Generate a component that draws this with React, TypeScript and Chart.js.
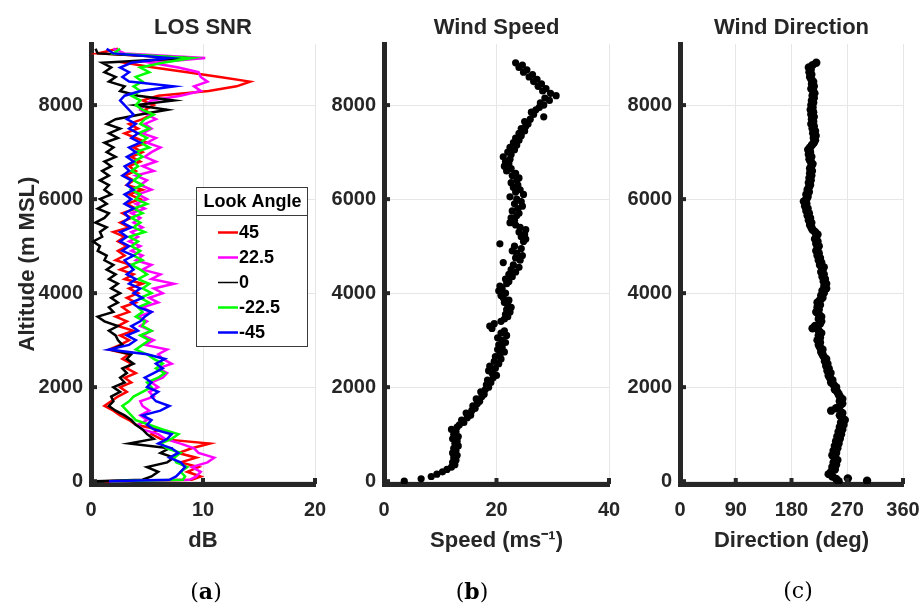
import React, { useEffect, useRef } from "react";
import { Chart, registerables } from "chart.js";
Chart.register(...registerables);

// ---------- DATA ----------
const snrAlt = [0, 30, 100, 200, 300, 400, 500, 600, 700, 800, 900, 1000, 1100, 1200, 1300, 1400, 1500, 1600, 1700, 1800, 1900, 2000, 2100, 2200, 2300, 2400, 2500, 2600, 2700, 2800, 2900, 3000, 3100, 3200, 3300, 3400, 3500, 3600, 3700, 3800, 3900, 4000, 4100, 4200, 4300, 4400, 4500, 4600, 4700, 4800, 4900, 5000, 5100, 5200, 5300, 5400, 5500, 5600, 5700, 5800, 5900, 6000, 6100, 6200, 6300, 6400, 6500, 6600, 6700, 6800, 6900, 7000, 7100, 7200, 7300, 7400, 7500, 7600, 7700, 7800, 7900, 8000, 8100, 8200, 8300, 8400, 8500, 8600, 8700, 8800, 8900, 9000, 9100, 9200];

const snr45 = [1.2, 9.0, 9.8, 8.6, 9.6, 8.0, 9.4, 7.8, 9.0, 10.6, 6.2,
  5.4, 6.0, 4.0, 3.4, 2.6, 2.0, 1.2, 1.8, 2.4, 3.2,
  2.6, 3.6, 3.0, 4.0, 3.2, 3.6, 2.8, 3.4, 1.6, 2.6,
  3.4, 2.6, 3.8, 2.4, 3.2, 2.2, 3.4, 2.8, 4.0, 3.2,
  4.2, 3.4, 4.6, 3.0, 3.8, 2.6, 3.6, 2.2, 3.0, 2.4,
  3.2, 2.4, 3.0, 2.0, 3.4, 2.6, 3.6, 2.8, 4.0, 3.2,
  4.4, 3.4, 4.6, 3.2, 3.8, 3.0, 4.0, 3.4, 4.4, 3.6,
  4.6, 3.8, 5.0, 4.0, 3.0, 4.2, 3.4, 4.6, 5.4, 4.8,
  5.6, 4.6, 6.0, 10.5, 13.0, 14.2, 11.5, 8.6, 5.6, 3.0,
  8.4, 0.6, 2.4];

const snr22 = [1.6, 8.8, 9.4, 9.8, 9.0, 10.4, 11.0, 9.6, 9.2, 8.0, 6.6,
  6.0, 4.6, 4.2, 5.0, 4.4, 5.2, 4.6, 4.4, 5.6, 5.2,
  6.0, 5.4, 6.4, 6.8, 6.0, 7.2, 6.4, 6.0, 6.8, 4.8,
  5.6, 4.6, 5.4, 4.4, 5.0, 4.2, 5.4, 4.6, 6.0, 5.2,
  6.4, 5.6, 7.4, 5.4, 6.2, 4.6, 5.4, 4.0, 4.6, 3.6,
  4.4, 3.4, 4.2, 3.6, 4.6, 3.8, 4.4, 3.6, 4.8, 4.0,
  5.0, 4.2, 5.4, 4.4, 5.0, 4.0, 5.6, 4.6, 5.8, 4.8,
  5.4, 6.2, 5.0, 5.8, 4.6, 5.4, 4.8, 5.8, 5.0, 4.4,
  4.8, 5.4, 8.0, 9.8, 9.2, 10.4, 9.8, 9.6, 7.8, 5.4,
  10.2, 3.0, 2.0];

const snr0 = [0.4, 4.6, 5.4, 6.0, 5.0, 6.8, 7.4, 6.2, 7.0, 3.4, 5.6,
  5.0, 4.6, 4.0, 3.6, 3.0, 2.2, 1.6, 2.0, 1.8, 2.6,
  2.0, 3.0, 2.6, 3.2, 2.8, 3.8, 3.2, 3.6, 1.8, 2.8,
  2.4, 2.2, 1.6, 2.4, 1.2, 0.6, 2.0, 1.6, 2.4, 1.8,
  2.6, 1.8, 2.4, 1.6, 2.2, 1.4, 2.0, 1.2, 1.4, 0.6,
  0.8, 0.2, 1.0, 0.8, 1.4, 0.4, 1.2, 1.6, 0.6, 1.4,
  0.8, 1.8, 1.2, 1.6, 0.8, 1.6, 1.0, 1.8, 1.2, 2.2,
  1.4, 2.0, 1.2, 2.4, 1.6, 2.6, 1.4, 2.2, 4.4, 6.8,
  4.0, 7.4, 4.2, 2.6, 3.0, 1.6, 2.2, 1.2, 1.8, 1.0,
  8.6, 0.6, 0.4];

const snrM22 = [1.8, 8.2, 8.4, 8.0, 8.6, 7.6, 7.4, 8.0, 6.8, 6.2, 7.2,
  7.8, 6.4, 5.2, 4.0, 3.6, 3.2, 2.8, 3.4, 3.8, 4.6,
  5.4, 5.0, 6.0, 6.6, 5.8, 6.4, 5.6, 5.0, 4.0, 4.6,
  5.2, 4.4, 5.4, 4.6, 4.8, 4.0, 4.6, 4.2, 5.2, 4.4,
  5.4, 4.6, 5.2, 4.2, 5.0, 4.4, 3.6, 4.6, 3.8, 4.4,
  3.6, 4.2, 3.4, 4.8, 3.8, 4.4, 3.6, 4.6, 3.8, 5.0,
  4.0, 4.4, 3.6, 4.6, 3.8, 4.4, 3.6, 4.2, 3.8, 4.6,
  4.0, 5.2, 4.4, 5.0, 4.2, 5.2, 4.4, 4.8, 5.6, 4.6,
  4.0, 4.4, 3.6, 4.4, 3.8, 4.6, 4.0, 5.2, 4.4, 6.4,
  9.0, 2.0, 2.6];

const snrM45 = [1.6, 7.0, 7.6, 8.0, 8.4, 8.0, 7.0, 7.8, 7.2, 6.0, 6.8,
  7.2, 5.6, 5.0, 5.4, 4.6, 6.2, 7.0, 5.8, 5.4, 6.0,
  5.0, 5.4, 4.8, 5.6, 6.4, 5.8, 6.6, 5.0, 1.6, 3.4,
  4.0, 3.2, 4.2, 3.6, 4.4, 4.8, 5.4, 4.2, 3.6, 4.6,
  3.8, 4.4, 3.4, 4.0, 3.2, 3.8, 3.4, 3.0, 3.8, 2.8,
  3.4, 2.6, 3.2, 2.6, 3.6, 2.8, 3.4, 3.0, 3.8, 3.0,
  3.6, 3.0, 3.8, 3.2, 3.6, 2.8, 3.4, 3.0, 3.8, 3.2,
  4.0, 3.4, 4.4, 3.6, 4.2, 3.4, 4.0, 3.2, 3.8, 3.4,
  3.0, 2.6, 3.0, 4.4, 7.4, 3.4, 2.8, 3.4, 2.6, 3.6,
  7.0, 2.0, 1.4];

const lookAngles = ["45", "22.5", "0", "-22.5", "-45"];
const lookColors = ["#ff0000", "#ff00ff", "#000000", "#00ff00", "#0000ff"];

const profileAlt = [0, 50, 100, 150, 200, 250, 300, 350, 400, 450, 500, 550, 600, 650, 700, 750, 800, 850, 900, 950,
  1000, 1050, 1100, 1150, 1200, 1250, 1300, 1350, 1400, 1450, 1500, 1550, 1600, 1650, 1700, 1750, 1800, 1850, 1900, 1950,
  2000, 2050, 2100, 2150, 2200, 2250, 2300, 2350, 2400, 2450, 2500, 2550, 2600, 2650, 2700, 2750, 2800, 2850, 2900, 2950,
  3000, 3050, 3100, 3150, 3200, 3250, 3300, 3350, 3400, 3450, 3500, 3550, 3600, 3650, 3700, 3750, 3800, 3850, 3900, 3950,
  4000, 4050, 4100, 4150, 4200, 4250, 4300, 4350, 4400, 4450, 4500, 4550, 4600, 4650, 4700, 4750, 4800, 4850, 4900, 4950,
  5000, 5050, 5100, 5150, 5200, 5250, 5300, 5350, 5400, 5450, 5500, 5550, 5600, 5650, 5700, 5750, 5800, 5850, 5900, 5950,
  6000, 6050, 6100, 6150, 6200, 6250, 6300, 6350, 6400, 6450, 6500, 6550, 6600, 6650, 6700, 6750, 6800, 6850, 6900, 6950,
  7000, 7050, 7100, 7150, 7200, 7250, 7300, 7350, 7400, 7450, 7500, 7550, 7600, 7650, 7700, 7750, 7800, 7850, 7900, 7950,
  8000, 8050, 8100, 8150, 8200, 8250, 8300, 8350, 8400, 8450, 8500, 8550, 8600, 8650, 8700, 8750, 8800, 8850, 8900];

const windSpeed = [3.6, 6.6, 8.4, 9.4, 10.4, 11.2, 12.0, 12.6, 12.2, 12.8,
  12.4, 13.0, 12.2, 12.8, 12.4, 13.2, 12.6, 13.0, 12.2, 13.2,
  12.4, 12.8, 12.0, 13.0, 13.4, 14.2, 13.8, 14.8, 15.4, 14.6,
  15.6, 16.2, 15.8, 16.6, 17.0, 16.4, 17.4, 17.8, 17.2, 18.0,
  18.6, 18.2, 19.0, 18.4, 19.4, 20.0, 19.2, 18.6, 19.8, 18.8,
  20.4, 19.6, 20.8, 19.8, 20.6, 21.4, 20.2, 21.0, 20.4, 21.6,
  21.0, 20.2, 21.8, 20.8, 21.4, 19.2, 18.8, 19.6, 20.8, 21.4,
  22.0, 21.6, 22.4, 21.8, 22.6, 22.0, 21.4, 22.2, 21.2, 20.8,
  21.6, 20.4, 21.0, 20.6, 21.8, 22.2, 21.6, 22.8, 22.2, 23.4,
  22.6, 24.0, 23.0, 21.2, 24.2, 23.4, 24.6, 23.6, 22.8, 24.4,
  23.2, 20.6, 24.8, 25.2, 24.4, 25.0, 24.0, 25.2, 24.2, 23.4,
  22.4, 23.2, 22.6, 23.6, 24.0, 22.8, 23.8, 24.6, 23.2, 24.4,
  23.6, 22.4, 24.8, 23.4, 24.2, 23.0, 23.8, 22.6, 23.6, 24.0,
  22.8, 23.4, 21.8, 22.6, 21.4, 22.2, 21.6, 22.4, 21.2, 22.6,
  22.0, 23.2, 22.4, 23.6, 23.0, 24.0, 23.4, 24.4, 24.0, 25.0,
  24.4, 25.2, 25.6, 25.0, 26.0, 28.4, 26.6, 26.2, 27.0, 27.6,
  28.4, 27.8, 29.4, 28.6, 30.6, 29.6, 28.2, 28.8, 27.4, 28.0,
  26.6, 27.2, 25.8, 26.4, 24.8, 25.4, 24.0, 24.6, 23.4];

const windDir = [256, 252, 246, 240, 244, 250, 246, 252, 248, 254,
  250, 246, 252, 248, 254, 250, 256, 252, 258, 254,
  260, 256, 262, 258, 264, 260, 266, 262, 258, 262,
  244, 252, 258, 262, 258, 262, 258, 256, 254, 250,
  252, 248, 244, 246, 242, 240, 243, 238, 240, 236,
  238, 234, 236, 232, 230, 228, 230, 226, 224, 226,
  222, 226, 224, 228, 224, 214, 218, 226, 228, 224,
  228, 224, 220, 224, 222, 226, 222, 226, 230, 228,
  232, 230, 236, 233, 236, 232, 234, 230, 232, 228,
  230, 232, 226, 228, 224, 226, 222, 224, 220, 222,
  224, 220, 222, 218, 220, 222, 218, 214, 212, 210,
  212, 208, 210, 206, 208, 204, 206, 202, 204, 200,
  204, 206, 204, 208, 206, 208, 210, 208, 211, 209,
  212, 210, 213, 210, 212, 214, 211, 209, 212, 208,
  210, 207, 210, 213, 216, 218, 216, 219, 215, 218,
  214, 216, 212, 215, 213, 216, 212, 215, 211, 214,
  212, 215, 213, 216, 214, 217, 215, 212, 216, 213,
  215, 212, 210, 212, 209, 211, 208, 214, 220];

const dirExtraAlt = [60, 10];
const dirExtra = [271, 302];

const altTicks = [0, 2000, 4000, 6000, 8000];

// ---------- STYLE ----------
const FONT = "'Liberation Sans', Arial, Helvetica, sans-serif";
const AX = "#262626";
const GRID = "#e6e6e6";
const Y_MIN = -60;
const Y_MAX = 9300;

const pts = (xs: number[], ys: number[]) =>
  xs.slice(0, Math.min(xs.length, ys.length)).map((v, i) => ({ x: v, y: ys[i] }));

const innerTicks = {
  id: "innerTicks",
  afterDatasetsDraw(chart: any) {
    const { ctx, chartArea: a, scales } = chart;
    ctx.save();
    ctx.strokeStyle = AX;
    ctx.lineWidth = 4;
    scales.x.ticks.forEach((t: any) => {
      const px = scales.x.getPixelForValue(t.value);
      ctx.beginPath();
      ctx.moveTo(px, a.bottom);
      ctx.lineTo(px, a.bottom - 6);
      ctx.stroke();
    });
    scales.y.ticks.forEach((t: any) => {
      const py = scales.y.getPixelForValue(t.value);
      ctx.beginPath();
      ctx.moveTo(a.left, py);
      ctx.lineTo(a.left + 6, py);
      ctx.stroke();
    });
    ctx.restore();
  },
};

const lookLegend = {
  id: "lookLegend",
  afterDraw(chart: any) {
    const { ctx, chartArea: a } = chart;
    const x0 = a.left + 105;
    const y0 = a.top + 143;
    const w = 111;
    const h = 159;
    ctx.save();
    ctx.fillStyle = "#ffffff";
    ctx.fillRect(x0, y0, w, h);
    ctx.strokeStyle = "#3a3a3a";
    ctx.lineWidth = 1;
    ctx.strokeRect(x0 + 0.5, y0 + 0.5, w, h);
    ctx.beginPath();
    ctx.moveTo(x0, y0 + 28.5);
    ctx.lineTo(x0 + w, y0 + 28.5);
    ctx.stroke();
    ctx.fillStyle = "#000000";
    ctx.font = `bold 18px ${FONT}`;
    ctx.textAlign = "center";
    ctx.textBaseline = "middle";
    ctx.fillText("Look Angle", x0 + w / 2 + 1, y0 + 15);
    ctx.textAlign = "left";
    chart.data.datasets.forEach((ds: any, i: number) => {
      const y = y0 + 45.5 + i * 25;
      ctx.strokeStyle = ds.borderColor;
      ctx.lineWidth = ds.borderColor === "#000000" ? 1.5 : 2.5;
      ctx.beginPath();
      ctx.moveTo(x0 + 22, y);
      ctx.lineTo(x0 + 42, y);
      ctx.stroke();
      ctx.fillText(ds.label, x0 + 43, y + 1);
    });
    ctx.restore();
  },
};

function makeConfig(p: any) {
  const tickFont = { family: FONT, size: 20, weight: "bold" };
  const titleFont = { family: FONT, size: 22, weight: "bold" };
  return {
    type: "scatter",
    data: { datasets: p.datasets },
    options: {
      animation: false,
      responsive: false,
      devicePixelRatio: 1,
      layout: { padding: { left: 0, top: 0, right: p.padRight, bottom: 49 } },
      plugins: {
        legend: { display: false },
        tooltip: { enabled: false },
        title: {
          display: true,
          text: p.title,
          fullSize: false,
          color: AX,
          font: titleFont,
          padding: { top: 15, bottom: 2.6 },
        },
      },
      scales: {
        x: {
          type: "linear",
          min: p.xMin,
          max: p.xMax,
          afterFit: (s: any) => {
            s.height = 70;
            s.paddingLeft = 0;
            s.paddingRight = 0;
          },
          ticks: {
            stepSize: p.xStep,
            includeBounds: false,
            color: AX,
            font: tickFont,
            padding: 14,
            maxRotation: 0,
            autoSkip: false,
            callback: (v: any) => String(v),
          },
          grid: { color: GRID, lineWidth: 1, drawTicks: false },
          border: { display: true, color: AX, width: 5 },
          title: { display: true, text: p.xTitle, color: AX, font: titleFont, padding: { top: 0, bottom: 0 } },
        },
        y: {
          type: "linear",
          min: Y_MIN,
          max: Y_MAX,
          afterFit: (s: any) => {
            s.width = p.yWidth;
            s.paddingTop = 0;
            s.paddingBottom = 0;
          },
          afterBuildTicks: (s: any) => {
            s.ticks = altTicks.map((v) => ({ value: v }));
          },
          ticks: {
            stepSize: 2000,
            includeBounds: false,
            color: AX,
            font: tickFont,
            padding: 8,
            callback: (v: any) => String(v),
          },
          grid: { color: GRID, lineWidth: 1, drawTicks: false },
          border: { display: true, color: AX, width: 5 },
          title: p.yTitle
            ? { display: true, text: p.yTitle, color: AX, font: titleFont, padding: { top: 15, bottom: 0 } }
            : { display: false },
        },
      },
    },
    plugins: p.plugins,
  };
}

const snrSeries = [snr45, snr22, snr0, snrM22, snrM45];

const configs = [
  {
    left: 0,
    width: 340,
    make: () =>
      makeConfig({
        title: "LOS SNR",
        xTitle: "dB",
        yTitle: "Altitude (m MSL)",
        xMin: 0,
        xMax: 20,
        xStep: 10,
        yWidth: 91,
        padRight: 25,
        plugins: [innerTicks, lookLegend],
        datasets: snrSeries.map((vals, i) => ({
          label: lookAngles[i],
          data: pts(vals, snrAlt),
          showLine: true,
          borderColor: lookColors[i],
          backgroundColor: lookColors[i],
          borderWidth: 2.5,
          borderJoinStyle: "miter",
          pointRadius: 0,
          order: 5 - i,
        })),
      }),
  },
  {
    left: 320,
    width: 310,
    make: () =>
      makeConfig({
        title: "Wind Speed",
        xTitle: "Speed (ms\u207B\u00B9)",
        xMin: 0,
        xMax: 40,
        xStep: 20,
        yWidth: 64,
        padRight: 21,
        plugins: [innerTicks],
        datasets: [
          {
            label: "Speed",
            data: pts(windSpeed, profileAlt),
            backgroundColor: "#000000",
            borderColor: "#000000",
            borderWidth: 0,
            pointRadius: 3.6,
          },
        ],
      }),
  },
  {
    left: 620,
    width: 300,
    make: () =>
      makeConfig({
        title: "Wind Direction",
        xTitle: "Direction (deg)",
        xMin: 0,
        xMax: 360,
        xStep: 90,
        yWidth: 60,
        padRight: 17,
        plugins: [innerTicks],
        datasets: [
          {
            label: "Direction",
            data: pts(windDir, profileAlt).concat(pts(dirExtra, dirExtraAlt)),
            backgroundColor: "#000000",
            borderColor: "#000000",
            borderWidth: 0,
            pointRadius: 4.2,
          },
        ],
      }),
  },
];

function Panel({ left, width, make }: any) {
  const ref = useRef<HTMLCanvasElement>(null);
  useEffect(() => {
    const chart = new Chart(ref.current as HTMLCanvasElement, make() as any);
    return () => chart.destroy();
  }, []);
  return (
    <canvas
      ref={ref}
      width={width}
      height={603}
      style={{ position: "absolute", left, top: 0, width, height: 603 }}
    />
  );
}

const subLabels = [
  { letter: "a", x: 206 },
  { letter: "b", x: 472 },
  { letter: "c", x: 798, plain: true },
];

export default function App() {
  return (
    <div
      style={{
        position: "absolute",
        left: 0,
        top: 0,
        width: 920,
        height: 603,
        overflow: "hidden",
        background: "#ffffff",
      }}
    >
      {configs.map((c, i) => (
        <Panel key={i} left={c.left} width={c.width} make={c.make} />
      ))}
      {subLabels.map((s) => (
        <div
          key={s.letter}
          style={{
            position: "absolute",
            left: s.x,
            top: 591,
            transform: "translate(-50%, -50%)",
            fontFamily: "'DejaVu Serif', 'Liberation Serif', serif",
            fontSize: 22,
            color: "#000",
            whiteSpace: "nowrap",
            lineHeight: 1,
          }}
        >
          ({s.plain ? s.letter : <b>{s.letter}</b>})
        </div>
      ))}
    </div>
  );
}
